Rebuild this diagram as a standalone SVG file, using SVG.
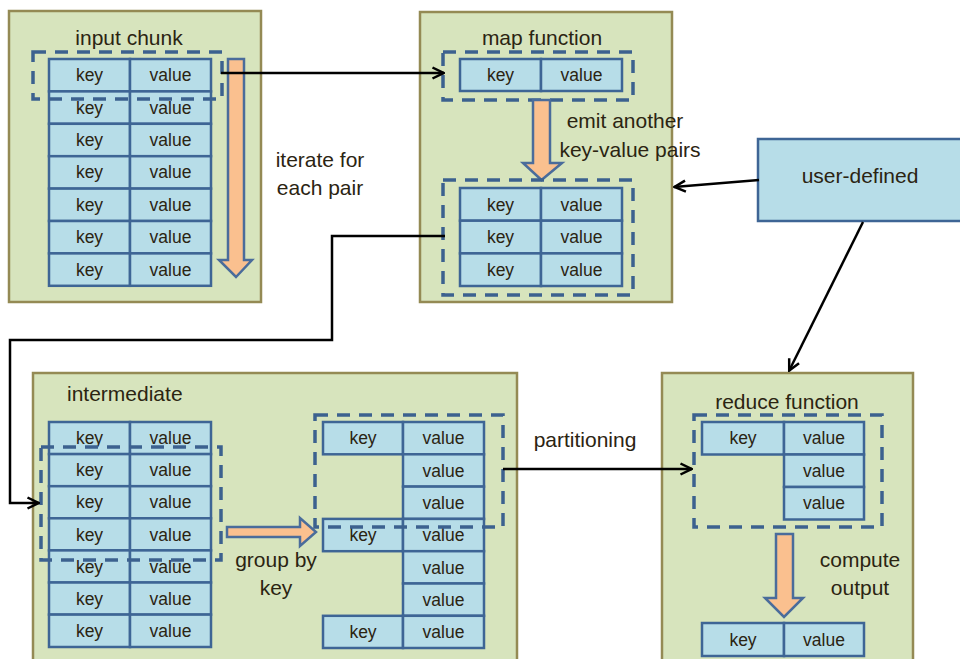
<svg xmlns="http://www.w3.org/2000/svg" width="960" height="659" viewBox="0 0 960 659">
  <style>
    .panel { fill: #d7e4bd; stroke: #948a54; stroke-width: 2.5; }
    .cell { fill: #b7dde8; stroke: #3e6595; stroke-width: 2.5; }
    .sel { fill: none; stroke: #3c618f; stroke-width: 3.5; stroke-dasharray: 13 9; }
    .flow { fill: #fac08f; stroke: #4a6c9b; stroke-width: 2.5; stroke-linejoin: miter; }
    .ct { font-family: "Liberation Sans", Arial, sans-serif; font-size: 17.5px; fill: #2b2412; text-anchor: middle; }
    .lbl { font-family: "Liberation Sans", Arial, sans-serif; font-size: 21px; fill: #2b2412; text-anchor: middle; }
    .conn { fill: none; stroke: #000; stroke-width: 2.5; }
  </style>
  <defs>
    <marker id="arrow" viewBox="0 0 14 14" refX="13" refY="7" markerWidth="14" markerHeight="14" markerUnits="userSpaceOnUse" orient="auto">
      <path d="M1.5,1.5 L12.5,7 L1.5,12.5" fill="none" stroke="#000" stroke-width="2.5"/>
    </marker>
  </defs>

  <!-- input chunk -->
  <g id="input-chunk">
    <rect class="panel" x="9" y="11" width="252" height="291"/>
    <text class="lbl" x="129" y="45">input chunk</text>
    <g>
      <rect class="cell" x="49" y="59" width="81" height="32.4"/><rect class="cell" x="130" y="59" width="81" height="32.4"/>
      <rect class="cell" x="49" y="91.4" width="81" height="32.4"/><rect class="cell" x="130" y="91.4" width="81" height="32.4"/>
      <rect class="cell" x="49" y="123.8" width="81" height="32.4"/><rect class="cell" x="130" y="123.8" width="81" height="32.4"/>
      <rect class="cell" x="49" y="156.2" width="81" height="32.4"/><rect class="cell" x="130" y="156.2" width="81" height="32.4"/>
      <rect class="cell" x="49" y="188.6" width="81" height="32.4"/><rect class="cell" x="130" y="188.6" width="81" height="32.4"/>
      <rect class="cell" x="49" y="221" width="81" height="32.4"/><rect class="cell" x="130" y="221" width="81" height="32.4"/>
      <rect class="cell" x="49" y="253.4" width="81" height="32.4"/><rect class="cell" x="130" y="253.4" width="81" height="32.4"/>
      <text class="ct" x="89.5" y="81">key</text><text class="ct" x="170.5" y="81">value</text>
      <text class="ct" x="89.5" y="113.5">key</text><text class="ct" x="170.5" y="113.5">value</text>
      <text class="ct" x="89.5" y="146">key</text><text class="ct" x="170.5" y="146">value</text>
      <text class="ct" x="89.5" y="178">key</text><text class="ct" x="170.5" y="178">value</text>
      <text class="ct" x="89.5" y="210.5">key</text><text class="ct" x="170.5" y="210.5">value</text>
      <text class="ct" x="89.5" y="243">key</text><text class="ct" x="170.5" y="243">value</text>
      <text class="ct" x="89.5" y="275.5">key</text><text class="ct" x="170.5" y="275.5">value</text>
    </g>
    <rect class="sel" x="33" y="52" width="189" height="47"/>
    <polygon class="flow" points="228,59 244,59 244,260 252,260 236,277 219,260 228,260"/>
    <text class="lbl" x="320" y="167">iterate for</text>
    <text class="lbl" x="320" y="195">each pair</text>
  </g>

  <!-- map function -->
  <g id="map-function">
    <rect class="panel" x="420" y="12" width="252" height="290"/>
    <text class="lbl" x="542" y="45">map function</text>
    <rect class="cell" x="460" y="59" width="81" height="32"/><rect class="cell" x="541" y="59" width="81" height="32"/>
    <text class="ct" x="500.5" y="81">key</text><text class="ct" x="581.5" y="81">value</text>
    <rect class="sel" x="443" y="52" width="190" height="48"/>
    <polygon class="flow" points="533,100 550,100 550,163 562,163 541.5,180 523,163 533,163"/>
    <text class="lbl" x="625" y="128">emit another</text>
    <text class="lbl" x="630" y="157">key-value pairs</text>
    <rect class="cell" x="460" y="188" width="81" height="32.7"/><rect class="cell" x="541" y="188" width="81" height="32.7"/>
    <rect class="cell" x="460" y="220.7" width="81" height="32.7"/><rect class="cell" x="541" y="220.7" width="81" height="32.7"/>
    <rect class="cell" x="460" y="253.4" width="81" height="32.6"/><rect class="cell" x="541" y="253.4" width="81" height="32.6"/>
    <text class="ct" x="500.5" y="210.5">key</text><text class="ct" x="581.5" y="210.5">value</text>
    <text class="ct" x="500.5" y="243">key</text><text class="ct" x="581.5" y="243">value</text>
    <text class="ct" x="500.5" y="275.5">key</text><text class="ct" x="581.5" y="275.5">value</text>
    <rect class="sel" x="443" y="180" width="190" height="115"/>
  </g>

  <!-- user-defined -->
  <g id="user-defined">
    <rect class="cell" x="758" y="139" width="204" height="82"/>
    <text class="lbl" x="860" y="183">user-defined</text>
  </g>

  <!-- intermediate -->
  <g id="intermediate">
    <rect class="panel" x="33" y="373" width="484" height="300"/>
    <text class="lbl" x="67" y="401" style="text-anchor:start">intermediate</text>
    <g>
      <rect class="cell" x="49" y="422" width="81" height="32.1"/><rect class="cell" x="130" y="422" width="81" height="32.1"/>
      <rect class="cell" x="49" y="454.1" width="81" height="32.1"/><rect class="cell" x="130" y="454.1" width="81" height="32.1"/>
      <rect class="cell" x="49" y="486.2" width="81" height="32.1"/><rect class="cell" x="130" y="486.2" width="81" height="32.1"/>
      <rect class="cell" x="49" y="518.3" width="81" height="32.1"/><rect class="cell" x="130" y="518.3" width="81" height="32.1"/>
      <rect class="cell" x="49" y="550.4" width="81" height="32.1"/><rect class="cell" x="130" y="550.4" width="81" height="32.1"/>
      <rect class="cell" x="49" y="582.5" width="81" height="32.1"/><rect class="cell" x="130" y="582.5" width="81" height="32.1"/>
      <rect class="cell" x="49" y="614.6" width="81" height="32.4"/><rect class="cell" x="130" y="614.6" width="81" height="32.4"/>
      <text class="ct" x="89.5" y="444">key</text><text class="ct" x="170.5" y="444">value</text>
      <text class="ct" x="89.5" y="476">key</text><text class="ct" x="170.5" y="476">value</text>
      <text class="ct" x="89.5" y="508">key</text><text class="ct" x="170.5" y="508">value</text>
      <text class="ct" x="89.5" y="540.5">key</text><text class="ct" x="170.5" y="540.5">value</text>
      <text class="ct" x="89.5" y="573">key</text><text class="ct" x="170.5" y="573">value</text>
      <text class="ct" x="89.5" y="605">key</text><text class="ct" x="170.5" y="605">value</text>
      <text class="ct" x="89.5" y="637">key</text><text class="ct" x="170.5" y="637">value</text>
    </g>
    <rect class="sel" x="41" y="447" width="180" height="113"/>
    <polygon class="flow" points="227,527 300,527 300,518 316,532 300,546 300,537 227,537"/>
    <text class="lbl" x="276" y="567">group by</text>
    <text class="lbl" x="276" y="595">key</text>
    <!-- grouped by key -->
    <g>
      <rect class="cell" x="323" y="422" width="80" height="32.3"/><rect class="cell" x="403" y="422" width="81" height="32.3"/>
      <rect class="cell" x="403" y="454.3" width="81" height="32.3"/>
      <rect class="cell" x="403" y="486.6" width="81" height="32.3"/>
      <rect class="cell" x="323" y="518.9" width="80" height="32.3"/><rect class="cell" x="403" y="518.9" width="81" height="32.3"/>
      <rect class="cell" x="403" y="551.2" width="81" height="32.3"/>
      <rect class="cell" x="403" y="583.5" width="81" height="32.3"/>
      <rect class="cell" x="323" y="615.8" width="80" height="32.2"/><rect class="cell" x="403" y="615.8" width="81" height="32.2"/>
      <text class="ct" x="363" y="444">key</text><text class="ct" x="443.5" y="444">value</text>
      <text class="ct" x="443.5" y="476.5">value</text>
      <text class="ct" x="443.5" y="509">value</text>
      <text class="ct" x="363" y="541">key</text><text class="ct" x="443.5" y="541">value</text>
      <text class="ct" x="443.5" y="573.5">value</text>
      <text class="ct" x="443.5" y="606">value</text>
      <text class="ct" x="363" y="638">key</text><text class="ct" x="443.5" y="638">value</text>
    </g>
    <rect class="sel" x="315" y="415" width="188" height="112"/>
  </g>

  <text class="lbl" x="585" y="447">partitioning</text>

  <!-- reduce function -->
  <g id="reduce-function">
    <rect class="panel" x="662" y="373" width="251" height="300"/>
    <text class="lbl" x="787" y="409">reduce function</text>
    <rect class="cell" x="702" y="422" width="82" height="32.5"/><rect class="cell" x="784" y="422" width="80" height="32.5"/>
    <rect class="cell" x="784" y="454.5" width="80" height="32.5"/>
    <rect class="cell" x="784" y="487" width="80" height="32.5"/>
    <text class="ct" x="743" y="444">key</text><text class="ct" x="824" y="444">value</text>
    <text class="ct" x="824" y="476.5">value</text>
    <text class="ct" x="824" y="509">value</text>
    <rect class="sel" x="694" y="415" width="188" height="112"/>
    <polygon class="flow" points="776,534 793,534 793,598 803,598 784,617 765,598 776,598"/>
    <text class="lbl" x="860" y="567">compute</text>
    <text class="lbl" x="860" y="595">output</text>
    <rect class="cell" x="702" y="623" width="82" height="33"/><rect class="cell" x="784" y="623" width="80" height="33"/>
    <text class="ct" x="743" y="645.5">key</text><text class="ct" x="824" y="645.5">value</text>
  </g>

  <!-- connectors -->
  <g id="connectors">
    <line class="conn" x1="221" y1="73" x2="444" y2="73" marker-end="url(#arrow)"/>
    <line class="conn" x1="759" y1="180" x2="674" y2="187" marker-end="url(#arrow)"/>
    <line class="conn" x1="863" y1="222" x2="789" y2="371" marker-end="url(#arrow)"/>
    <path class="conn" d="M445,236 H332 V340 H10 V503 H39" marker-end="url(#arrow)"/>
    <line class="conn" x1="503" y1="469" x2="692" y2="469" marker-end="url(#arrow)"/>
  </g>
</svg>
